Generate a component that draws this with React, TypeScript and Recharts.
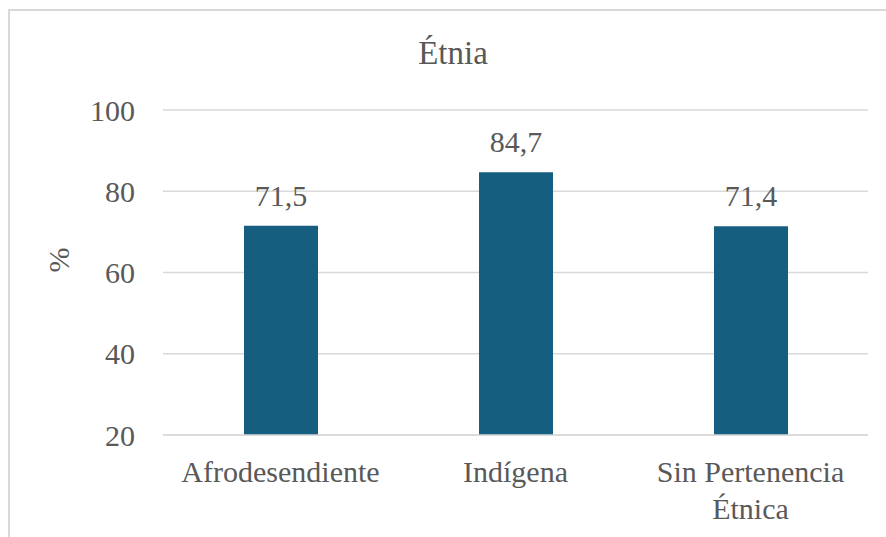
import React from 'react';
import { BarChart, Bar, XAxis, YAxis, CartesianGrid, LabelList } from 'recharts';

const categories = ['Afrodesendiente', 'Indígena', 'Sin Pertenencia Étnica'];
const categoryLines = [['Afrodesendiente'], ['Indígena'], ['Sin Pertenencia', 'Étnica']];
const values = [71.5, 84.7, 71.4];
const yTicks = [20, 40, 60, 80, 100];

const TEXT = '#595959';
const BAR = '#165E80';
const FONT = "'Times New Roman', Times, 'Liberation Serif', Tinos, 'DejaVu Serif', FreeSerif, serif";

const chartData = categories.map((name, i) => ({ name, value: values[i] }));

const CategoryTick = (props: any) => {
  const { x, y, index } = props;
  const lines = categoryLines[index] || [];
  return (
    <text x={x} y={y} textAnchor="middle" fill={TEXT} fontSize={30} fontFamily={FONT}>
      {lines.map((line, i) => (
        <tspan key={i} x={x} dy={i === 0 ? 21 : 37}>
          {line}
        </tspan>
      ))}
    </text>
  );
};

const App: React.FC = () => {
  return (
    <div
      style={{
        position: 'fixed',
        left: 0,
        top: 0,
        width: 886,
        height: 537,
        overflow: 'hidden',
        background: '#fff',
        fontFamily: FONT,
      }}
    >
      {/* chart frame, cut off on the right and bottom */}
      <div
        style={{
          position: 'absolute',
          left: 8,
          top: 9,
          width: 900,
          height: 600,
          border: '2px solid #d9d9d9',
        }}
      />
      <div
        style={{
          position: 'absolute',
          left: 8,
          width: 890,
          top: 30,
          textAlign: 'center',
          fontSize: 33,
          color: TEXT,
          lineHeight: '46px',
        }}
      >
        Étnia
      </div>
      <div style={{ position: 'absolute', left: 0, top: 0 }}>
        <BarChart
          width={886}
          height={537}
          data={chartData}
          margin={{ top: 110, right: 18, bottom: 72, left: 0 }}
        >
          <CartesianGrid vertical={false} stroke="#d9d9d9" strokeWidth={1.5} />
          <XAxis
            dataKey="name"
            height={30}
            axisLine={{ stroke: '#d9d9d9', strokeWidth: 1.5 }}
            tickLine={false}
            tickSize={0}
            tickMargin={26}
            interval={0}
            tick={<CategoryTick />}
          />
          <YAxis
            width={163}
            domain={[20, 100]}
            ticks={yTicks}
            axisLine={false}
            tickLine={false}
            tickSize={0}
            tickMargin={28}
            tick={{ fill: TEXT, fontSize: 30, fontFamily: FONT }}
            label={{
              value: '%',
              angle: -90,
              position: 'insideLeft',
              offset: 58,
              fill: TEXT,
              fontSize: 30,
              fontFamily: FONT,
            }}
          />
          <Bar dataKey="value" fill={BAR} barSize={74} isAnimationActive={false}>
            <LabelList
              dataKey="value"
              position="top"
              offset={20}
              fill={TEXT}
              fontSize={30}
              fontFamily={FONT}
              formatter={(v: any) => String(v).replace('.', ',')}
            />
          </Bar>
        </BarChart>
      </div>
    </div>
  );
};

export default App;
